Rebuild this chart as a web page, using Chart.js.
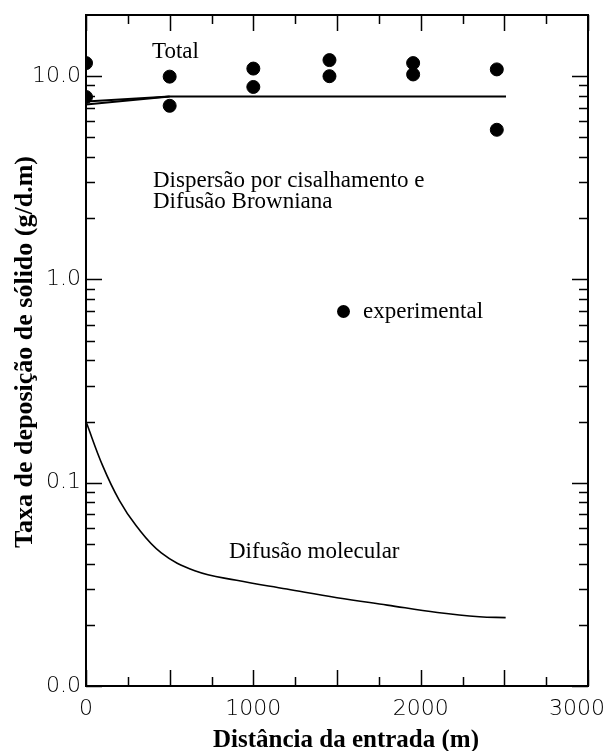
<!DOCTYPE html>
<html>
<head>
<meta charset="utf-8">
<script src="https://cdn.jsdelivr.net/npm/chart.js@4/dist/chart.umd.min.js"></script>
<style>
  html, body { margin: 0; padding: 0; background: #fff; }
  #wrap { width: 610px; height: 751px; }
</style>
</head>
<body>
<div id="wrap"><canvas id="myChart" width="610" height="751"></canvas></div>
<script>
// experimental points
const expX = [0, 0, 500, 500, 1000, 1000, 1455, 1455, 1955, 1955, 2455, 2455];
const expY = [11.6, 7.9, 9.95, 7.15, 10.9, 8.85, 12.0, 10.0, 11.6, 10.2, 10.8, 5.45];

// "Total" model line (two nearly overlapping curves at the inlet)
const totalX = [0, 500, 2510];
const totalY = [7.5, 7.95, 7.95];
const total2X = [0, 500];
const total2Y = [7.25, 7.95];

// molecular diffusion curve
const molX = [0, 100, 200, 300, 450, 650, 900, 1200, 1500, 1800, 2100, 2350, 2508];
const molY = [0.2, 0.121, 0.0816, 0.0614, 0.0452, 0.0369, 0.0331, 0.0300, 0.0272, 0.0250, 0.0230, 0.0219, 0.0217];

// axis ticks
const xTickValues = [0, 1000, 2000, 3000];
const yTickValues = [0.01, 0.1, 1, 10];
const yTickLabels = ['0.0', '0.1', '1.0', '10.0'];

function toPoints(xs, ys) {
  return xs.map((x, i) => ({ x: x, y: ys[i] }));
}

const serif = '"Liberation Serif", "Times New Roman", serif';
const sans = '"DejaVu Sans", Verdana, sans-serif';

// frame, inward ticks, annotations and axis titles
const decorations = {
  id: 'decorations',
  afterDraw(chart) {
    const c = chart.ctx;
    const xs = chart.scales.x, ys = chart.scales.y;
    const a = chart.chartArea;
    c.save();
    c.strokeStyle = '#000';
    c.lineWidth = 2;
    c.strokeRect(a.left, a.top, a.right - a.left, a.bottom - a.top);

    c.lineWidth = 1.5;
    c.beginPath();
    for (let v = 0; v <= 3000; v += 250) {
      const px = Math.round(xs.getPixelForValue(v)) + 0.5;
      const len = v % 500 === 0 ? 16 : 9;
      c.moveTo(px, a.bottom); c.lineTo(px, a.bottom - len);
      c.moveTo(px, a.top); c.lineTo(px, a.top + len);
    }
    for (const d of yTickValues) {
      for (let k = 1; k <= 9; k++) {
        const v = d * k;
        if (v >= 20) break;
        const py = Math.round(ys.getPixelForValue(v)) + 0.5;
        const len = k === 1 ? 16 : 9;
        c.moveTo(a.left, py); c.lineTo(a.left + len, py);
        c.moveTo(a.right, py); c.lineTo(a.right - len, py);
      }
    }
    c.stroke();

    c.fillStyle = '#000';
    c.font = '23px ' + serif;
    c.textBaseline = 'alphabetic';
    c.textAlign = 'left';
    c.fillText('Total', 152, 58);
    c.fillText('Dispersão por cisalhamento e', 153, 187);
    c.fillText('Difusão Browniana', 153, 208);
    c.fillText('experimental', 363, 318);
    c.fillText('Difusão molecular', 229, 558);
    c.beginPath();
    c.arc(343.5, 311.5, 6.5, 0, Math.PI * 2);
    c.fill();

    c.font = 'bold 25px ' + serif;
    c.textAlign = 'center';
    c.fillText('Distância da entrada (m)', 346, 747);
    c.font = 'bold 26px ' + serif;
    c.translate(32, 352);
    c.rotate(-Math.PI / 2);
    c.fillText('Taxa de deposição de sólido (g/d.m)', 0, 0);
    c.restore();
  }
};

const ctx = document.getElementById('myChart').getContext('2d');
const myChart = new Chart(ctx, {
  type: 'scatter',
  data: {
    datasets: [
      {
        label: 'experimental',
        data: toPoints(expX, expY),
        backgroundColor: '#000',
        borderColor: '#000',
        pointRadius: 6.5,
        pointHoverRadius: 6.5,
        showLine: false
      },
      {
        label: 'Total',
        data: toPoints(totalX, totalY),
        borderColor: '#000',
        borderWidth: 2,
        pointRadius: 0,
        showLine: true
      },
      {
        label: 'Total (2)',
        data: toPoints(total2X, total2Y),
        borderColor: '#000',
        borderWidth: 2,
        pointRadius: 0,
        showLine: true
      },
      {
        label: 'Difusão molecular',
        data: toPoints(molX, molY),
        borderColor: '#000',
        borderWidth: 1.6,
        pointRadius: 0,
        showLine: true,
        tension: 0.4
      }
    ]
  },
  options: {
    responsive: false,
    animation: false,
    events: [],
    layout: { padding: { top: 15, right: 22, left: 0, bottom: 0 } },
    plugins: {
      legend: { display: false },
      tooltip: { enabled: false }
    },
    scales: {
      x: {
        type: 'linear',
        min: 0,
        max: 3000,
        grid: { display: false, drawTicks: false },
        border: { display: false },
        afterBuildTicks: (scale) => {
          scale.ticks = xTickValues.map(v => ({ value: v }));
        },
        afterFit: (scale) => {
          scale.height = 65;
          scale.paddingLeft = 0;
          scale.paddingRight = 0;
        },
        ticks: {
          padding: 10,
          maxRotation: 0,
          color: '#000',
          font: { family: sans, size: 22, weight: 200 },
          // last label sits a little inside the frame in the original
          callback: (val) => val === 3000 ? String(val) + '\u2003' : String(val)
        }
      },
      y: {
        type: 'logarithmic',
        min: 0.01,
        max: 20,
        grid: { display: false, drawTicks: false },
        border: { display: false },
        afterBuildTicks: (scale) => {
          scale.ticks = yTickValues.map(v => ({ value: v }));
        },
        afterFit: (scale) => {
          scale.width = 86;
          scale.paddingTop = 0;
          scale.paddingBottom = 0;
        },
        ticks: {
          padding: 5,
          color: '#000',
          font: { family: sans, size: 22, weight: 200 },
          callback: (val) => {
            const i = yTickValues.indexOf(val);
            return i >= 0 ? yTickLabels[i] : '';
          }
        }
      }
    }
  },
  plugins: [decorations]
});
</script>
</body>
</html>
